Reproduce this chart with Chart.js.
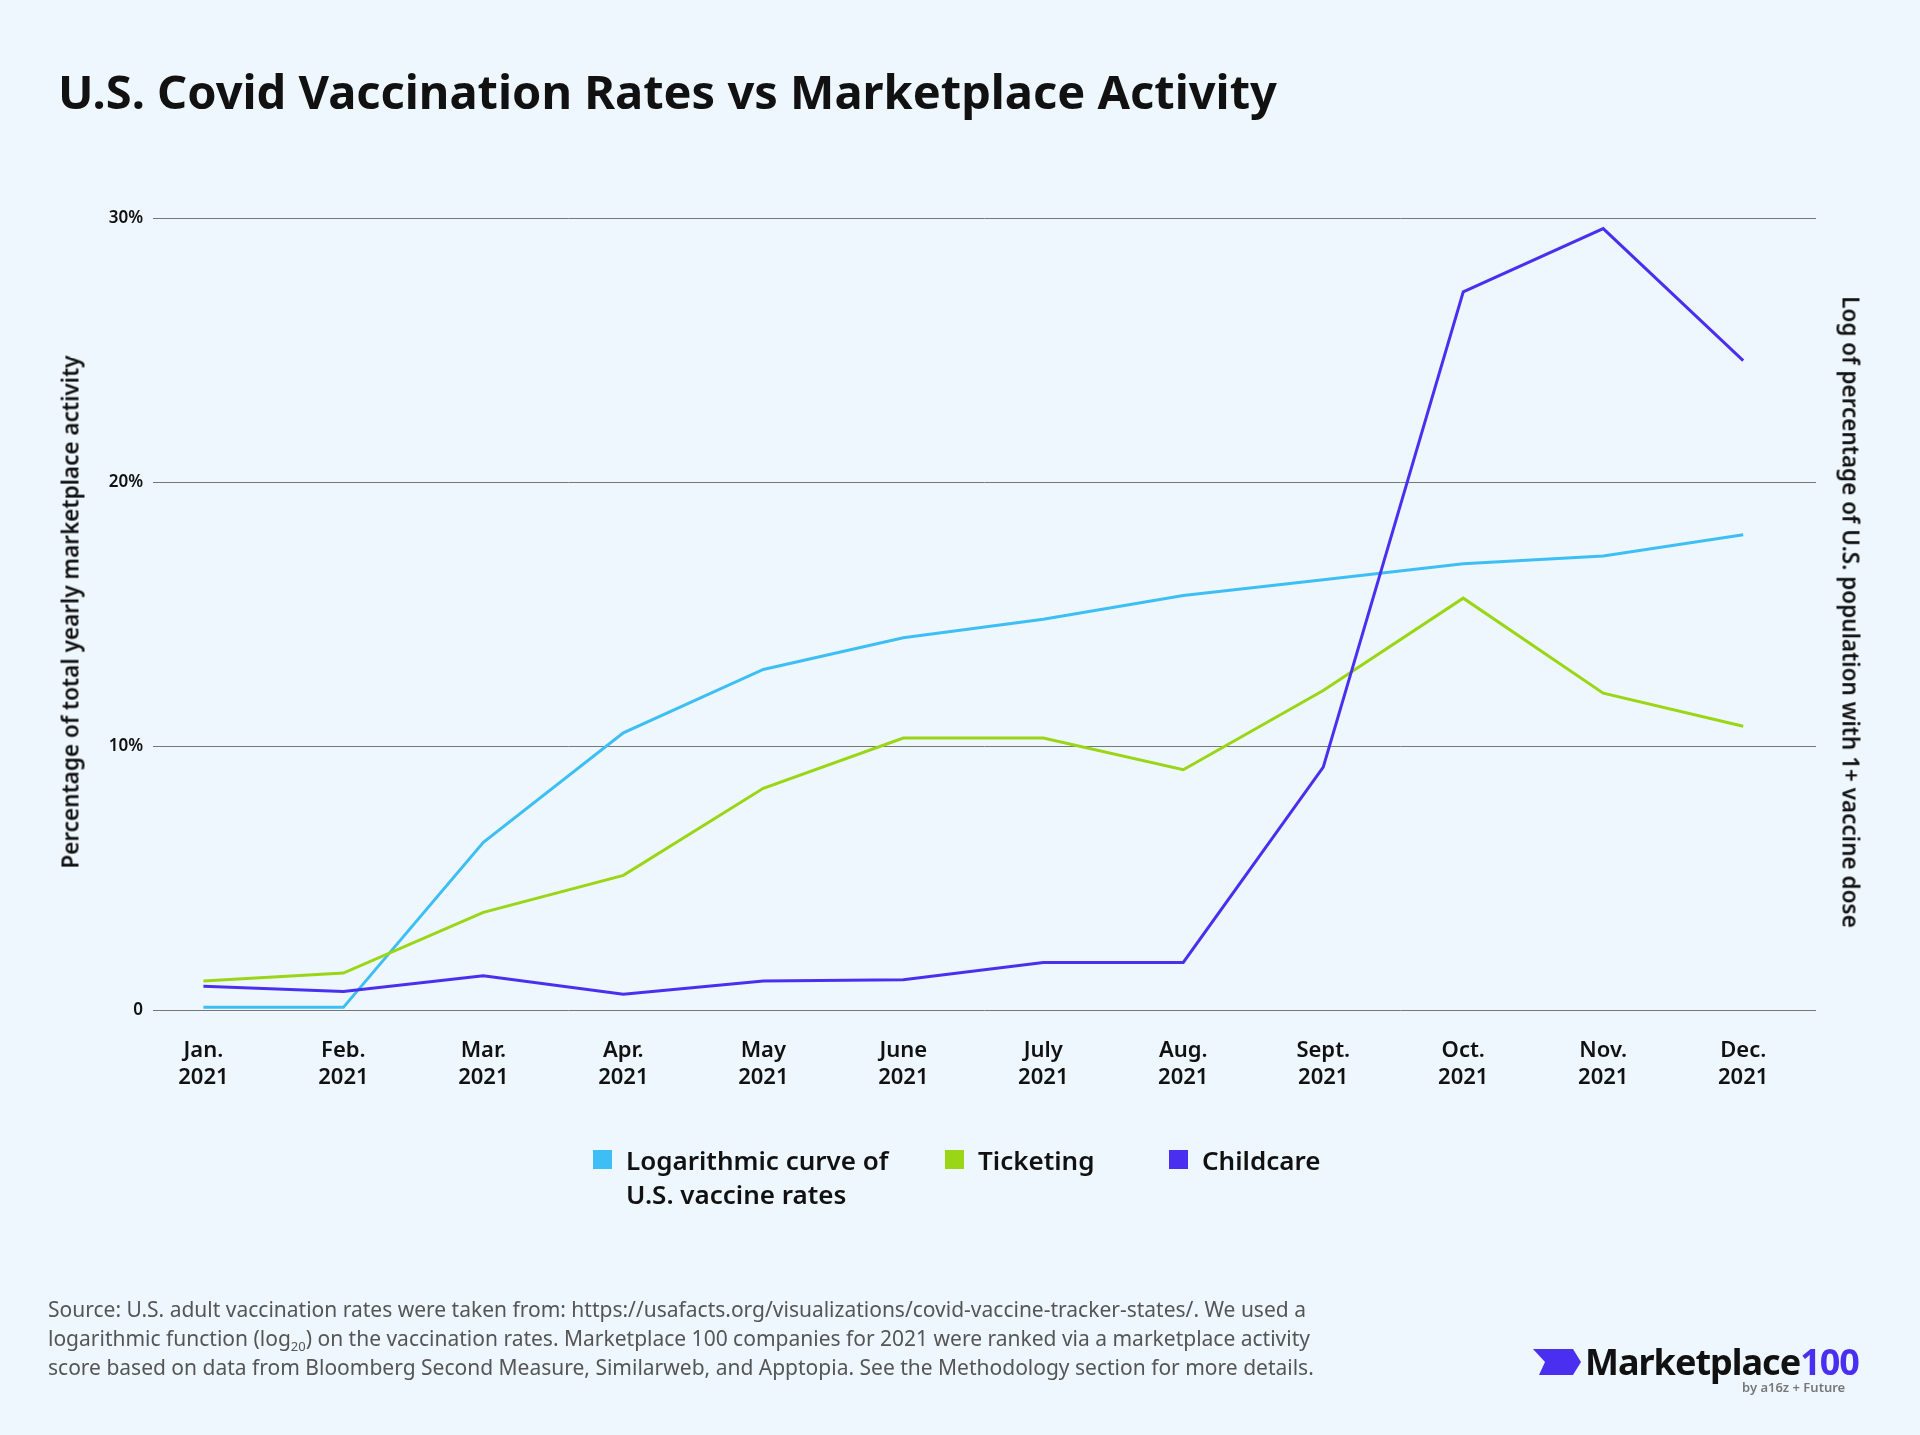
<!DOCTYPE html>
<html><head><meta charset="utf-8">
<script src="https://cdn.jsdelivr.net/npm/chart.js@4"></script>
<style>
html,body{margin:0;padding:0;background:#eef7fd;width:1920px;height:1435px;overflow:hidden;font-family:"Noto Sans",sans-serif;}
#c{position:absolute;left:0;top:0;}
.abs{position:absolute;}
#title{left:58px;top:59px;font-size:47px;font-weight:700;color:#111;}
.axt{font-size:22.5px;font-weight:600;color:#111;white-space:nowrap;}
.leg{font-size:26px;font-weight:600;color:#111;line-height:34px;}
.sq{display:inline-block;width:19px;height:19px;margin-right:14px;vertical-align:top;margin-top:7px;}
#foot{left:48px;top:1295px;font-size:21px;line-height:29px;color:#555;width:1320px;}
#foot sub{font-size:13px;line-height:0;}
</style></head><body>
<canvas id="c" width="1920" height="1435"></canvas>
<div id="title" class="abs">U.S. Covid Vaccination Rates vs Marketplace Activity</div>
<div class="abs axt" style="left:70px;top:612px;transform:translate(-50%,-50%) rotate(-90deg);">Percentage of total yearly marketplace activity</div>
<div class="abs axt" style="left:1851px;top:612px;transform:translate(-50%,-50%) rotate(90deg);">Log of percentage of U.S. population with 1+ vaccine dose</div>
<div class="abs leg" style="left:593px;top:1143px;"><span class="sq" style="background:#3dbff5"></span><span style="display:inline-block">Logarithmic curve of<br>U.S. vaccine rates</span></div>
<div class="abs leg" style="left:945px;top:1143px;"><span class="sq" style="background:#9ad615"></span>Ticketing</div>
<div class="abs leg" style="left:1169px;top:1143px;"><span class="sq" style="background:#4b2ff0"></span>Childcare</div>
<div id="foot" class="abs">Source: U.S. adult vaccination rates were taken from: https://usafacts.org/visualizations/covid-vaccine-tracker-states/. We used a logarithmic function (log<sub>20</sub>) on the vaccination rates. Marketplace 100 companies for 2021 were ranked via a marketplace activity score based on data from Bloomberg Second Measure, Similarweb, and Apptopia. See the Methodology section for more details.</div>
<div class="abs" style="left:1533px;top:1337px;">
  <svg width="48" height="30" style="vertical-align:middle;margin-right:4px"><polygon points="0,2 40,2 48,15 40,28 6,28 12,15" fill="#4b2ff0"/></svg><span style="font-size:36px;font-weight:700;color:#111;letter-spacing:-1px;vertical-align:middle">Marketplace<span style="color:#4b2ff0">100</span></span>
</div>
<div class="abs" style="left:1742px;top:1378px;font-size:13px;font-weight:600;color:#777;">by a16z + Future</div>
<script>
const months=["Jan.","Feb.","Mar.","Apr.","May","June","July","Aug.","Sept.","Oct.","Nov.","Dec."];
const yearLabel="2021";
const vaccine=[0.1,0.1,6.35,10.5,12.9,14.1,14.8,15.7,16.3,16.9,17.2,18.0];
const ticketing=[1.1,1.4,3.7,5.1,8.4,10.3,10.3,9.1,12.1,15.6,12.0,10.75];
const childcare=[0.9,0.7,1.3,0.6,1.1,1.15,1.8,1.8,9.2,27.2,29.6,24.6];
const yTicks=[0,10,20,30];
const pts=a=>a.map((v,i)=>({x:i,y:v}));
const ds=(d,c)=>({data:pts(d),borderColor:c,borderWidth:3,pointRadius:0,tension:0,fill:false});
new Chart(document.getElementById('c'),{type:'line',
data:{datasets:[ds(childcare,'#4b2ff0'),ds(ticketing,'#9ad615'),ds(vaccine,'#3dbff5')]},
options:{responsive:false,animation:false,
layout:{padding:{left:0,top:218,right:104,bottom:325}},
plugins:{legend:{display:false},tooltip:{enabled:false}},
scales:{
x:{type:'linear',min:-0.36,max:11.52,afterFit:s=>{s.height=100;},
 afterBuildTicks:s=>{s.ticks=months.map((m,i)=>({value:i}));},
 grid:{display:false},border:{display:false},
 ticks:{autoSkip:false,maxRotation:0,padding:20,color:'#111',font:{family:'Noto Sans',size:22,weight:'600'},
  callback:v=>[months[v],yearLabel]}},
y:{min:0,max:30,afterFit:s=>{s.width=153;},
 afterBuildTicks:s=>{s.ticks=yTicks.map(v=>({value:v}));},
 grid:{color:'#777',lineWidth:1,drawTicks:false},border:{display:false},
 ticks:{padding:10,color:'#111',font:{family:'Noto Sans',size:17,weight:'600'},callback:v=>v===0?'0':v+'%'}}
}}});
</script>
</body></html>
